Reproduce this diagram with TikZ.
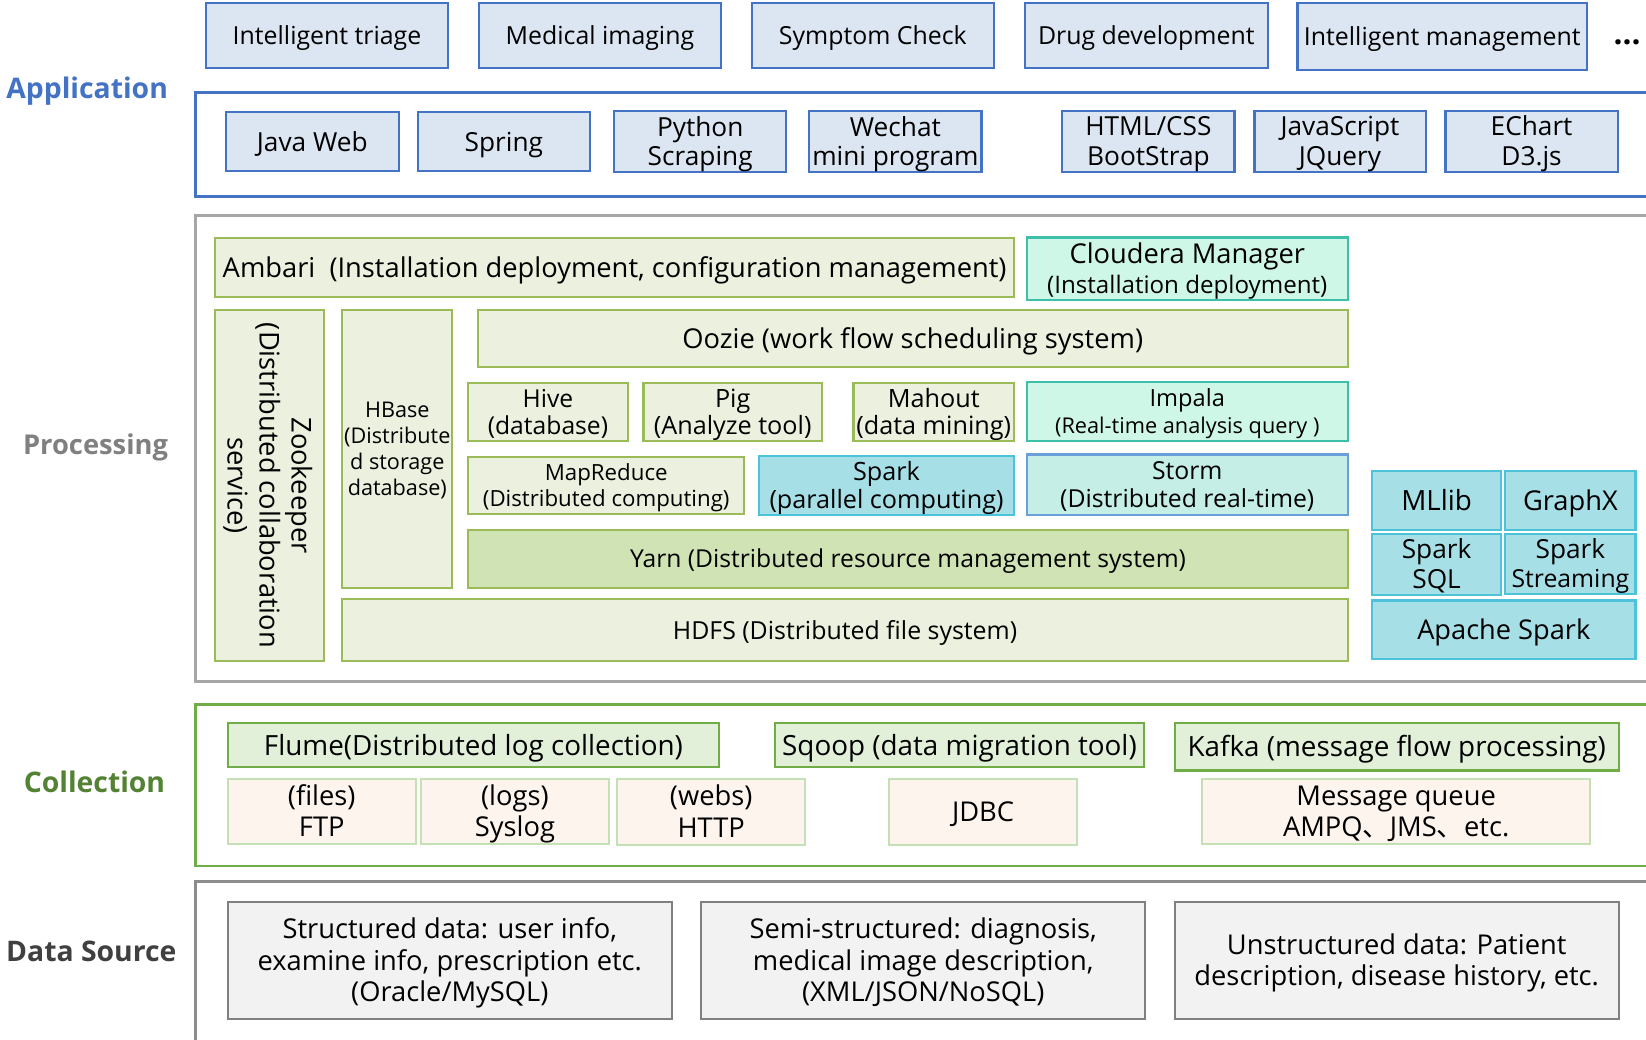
\documentclass[tikz,border=0pt]{standalone}
\usepackage{fontspec}
\setmainfont{Open Sans}
\newfontfamily\cjkfont{Noto Sans CJK SC}
\newcommand\fs[2]{\fontsize{#1}{#2}\selectfont}
\newcommand\tstrut{\rule{0pt}{0.96em}}
\newcommand\bstrut{\rule[-0.25em]{0pt}{0.25em}}
\definecolor{appblue}{HTML}{4472C4}
\definecolor{appfill}{HTML}{DCE6F2}
\definecolor{gborder}{HTML}{9BBB59}
\definecolor{gfill}{HTML}{EBF1DE}
\definecolor{yfill}{HTML}{D0E3B4}
\definecolor{tborder}{HTML}{3DBFAA}
\definecolor{tfill}{HTML}{CFF7E8}
\definecolor{sborder}{HTML}{4CC3D9}
\definecolor{sfill}{HTML}{A6DFE6}
\definecolor{stborder}{HTML}{6A9FDA}
\definecolor{stfill}{HTML}{C4EEE6}
\definecolor{cgreen}{HTML}{70AD47}
\definecolor{cfill}{HTML}{E2F0D9}
\definecolor{pborder}{HTML}{C5E0B4}
\definecolor{pfill}{HTML}{FDF4EE}
\definecolor{dborder}{HTML}{808080}
\definecolor{dfill}{HTML}{F2F2F2}
\definecolor{procgray}{HTML}{A6A6A6}
\definecolor{dsgray}{HTML}{8C8C8C}
\definecolor{collabel}{HTML}{548235}
\definecolor{proclabel}{HTML}{808080}
\definecolor{dslabel}{HTML}{404040}
\newcommand\bx[7]{\node[#2, minimum width={#5-#3}, minimum height={#6-#4}] (#1) at ({(#3+#5)/2},{(#4+#6)/2}) {\tstrut#7\bstrut};}
\begin{document}
\begin{tikzpicture}[x=1pt,y=-1pt,
  base/.style={draw, line width=2pt, inner sep=0pt, align=center, text=black},
  appbox/.style={base, draw=appblue, fill=appfill, font=\fs{23.7}{28}},
  appbox2/.style={base, draw=appblue, fill=appfill, font=\fs{25}{28}},
  gbox/.style={base, draw=gborder, fill=gfill, font=\fs{23.5}{28}},
  ybox/.style={base, draw=gborder, fill=yfill, font=\fs{23.5}{27}},
  tbox/.style={base, draw=tborder, fill=tfill, font=\fs{23}{26}},
  sbox/.style={base, draw=sborder, fill=sfill, font=\fs{24}{27}},
  stbox/.style={base, draw=stborder, fill=stfill, font=\fs{23.6}{27}},
  cbox/.style={base, draw=cgreen, fill=cfill, font=\fs{26.5}{28}},
  pbox/.style={base, draw=pborder, fill=pfill, font=\fs{26}{30}},
  dbox/.style={base, draw=dborder, fill=dfill, font=\fs{26}{30}},
  frame/.style={line width=2.5pt},
  lbl/.style={font=\bfseries\fs{27}{32}, inner sep=0pt}
]
\clip (0,0) rectangle (1568,990);
\fill[white] (0,0) rectangle (1568,990);

% frames
\draw[frame, draw=appblue] (186,88) rectangle (1620,187);
\draw[frame, draw=procgray] (186,205) rectangle (1620,649);
\draw[frame, draw=cgreen] (186,671) rectangle (1620,825);
\draw[frame, draw=dsgray] (186,840) rectangle (1620,1020);

% layer labels
\node[lbl, text=appblue] (lapp) at (83,87) {Application};
\node[lbl, text=proclabel, font=\bfseries\fs{26}{32}] (lproc) at (91,426) {Processing};
\node[lbl, text=collabel] (lcol) at (90,745) {Collection};
\node[lbl, text=dslabel] (lds) at (87,906) {Data Source};

% application row 1
\bx{t1}{appbox}{196}{3}{427}{65}{Intelligent triage}
\bx{t2}{appbox}{456}{3}{687}{65}{Medical imaging}
\bx{t3}{appbox}{716}{3}{947}{65}{Symptom Check}
\bx{t4}{appbox}{976}{3}{1208}{65}{Drug development}
\bx{t5}{appbox}{1236}{3}{1512}{67}{Intelligent management}
\node[font=\bfseries\fs{30}{32}, inner sep=0pt] (dots) at (1550,40) {...};

% application row 2
\bx{r1}{appbox2}{215}{107}{380}{163}{Java Web}
\bx{r2}{appbox2}{398}{107}{562}{163}{Spring}
\bx{r3}{appbox2}{585}{107}{749}{163}{Python\\Scraping}
\bx{r4}{appbox2}{771}{107}{935}{163}{Wechat\\mini program}
\bx{r5}{appbox2}{1012}{106}{1176}{163}{HTML/CSS\\BootStrap}
\bx{r6}{appbox2}{1195}{106}{1358}{163}{JavaScript\\JQuery}
\bx{r7}{appbox2}{1377}{106}{1541}{163}{EChart\\D3.js}

% processing
\bx{ambari}{gbox, font=\fs{26}{28}}{205}{227}{966}{283}{Ambari\ \ (Installation deployment, configuration management)}
\bx{cloudera}{tbox, font=\fs{26}{28}}{978}{228}{1284}{284}{Cloudera Manager\\{\fs{23}{28}(Installation deployment)}}
\node[gbox, font=\fs{26}{30.5}, rotate=-90, minimum width=335, minimum height=104] (zk) at (256.5,462.5) {\tstrut Zookeeper\\(Distributed collaboration\\service)\bstrut};
\bx{hbase}{gbox, font=\fs{20.6}{24.5}}{326}{295}{431}{560}{HBase\\(Distribute\\d storage\\database)}
\bx{oozie}{gbox, font=\fs{26}{28}}{455}{295}{1284}{350}{Oozie (work flow scheduling system)}
\bx{hive}{gbox, font=\fs{23.5}{26}}{446}{365}{598}{420}{Hive\\(database)}
\bx{pig}{gbox, font=\fs{24}{26}}{613}{365}{783}{420}{Pig\\(Analyze tool)}
\bx{mahout}{gbox, font=\fs{24}{26}}{813}{365}{966}{420}{Mahout\\(data mining)}
\bx{impala}{tbox, font=\fs{22.5}{25}}{978}{364}{1284}{420}{Impala\\{\fs{20.7}{25}(Real-time analysis query )}}
\bx{mapreduce}{gbox, font=\fs{21.2}{25}}{446}{435}{709}{490}{MapReduce\\(Distributed computing)}
\bx{spark}{sbox}{723}{434}{966}{491}{Spark\\(parallel computing)}
\bx{storm}{stbox}{978}{433}{1284}{491}{Storm\\(Distributed real-time)}
\bx{yarn}{ybox}{446}{505}{1284}{560}{Yarn (Distributed resource management system)}
\bx{hdfs}{gbox, font=\fs{23.7}{27}}{326}{571}{1284}{630}{HDFS (Distributed file system)}
\bx{mllib}{sbox, font=\fs{26.5}{28}}{1307}{449}{1430}{505}{MLlib}
\bx{graphx}{sbox, font=\fs{26}{28}}{1434}{449}{1558}{505}{GraphX}
\bx{sparksql}{sbox, font=\fs{25}{28}}{1307}{509}{1430}{566}{Spark\\SQL}
\bx{sparkstr}{sbox, font=\fs{23.6}{28}}{1434}{509}{1558}{566}{{\fs{25}{28}Spark}\\Streaming}
\bx{apache}{sbox, font=\fs{25.9}{28}}{1307}{572}{1558}{628}{Apache Spark}

% collection
\bx{flume}{cbox}{217}{689}{685}{731}{Flume(Distributed log collection)}
\bx{sqoop}{cbox}{738}{689}{1090}{731}{Sqoop (data migration tool)}
\bx{kafka}{cbox}{1119}{689}{1542}{734}{Kafka (message flow processing)}
\bx{ftp}{pbox}{217}{742}{396}{804}{(files)\\FTP}
\bx{syslog}{pbox}{401}{742}{580}{804}{(logs)\\Syslog}
\bx{http}{pbox}{588}{742}{767}{805}{(webs)\\HTTP}
\bx{jdbc}{pbox}{847}{742}{1026}{805}{JDBC}
\bx{mq}{pbox}{1145}{742}{1515}{804}{Message queue\\AMPQ{\cjkfont 、}JMS{\cjkfont 、}etc.}

% data source
\bx{ds1}{dbox}{217}{859}{640}{971}{Structured data: user info,\\examine info, prescription etc.\\(Oracle/MySQL)}
\bx{ds2}{dbox}{668}{859}{1091}{971}{Semi-structured: diagnosis,\\medical image description,\\(XML/JSON/NoSQL)}
\bx{ds3}{dbox}{1119}{859}{1542}{971}{Unstructured data: Patient\\description, disease history, etc.}
\end{tikzpicture}
\end{document}
